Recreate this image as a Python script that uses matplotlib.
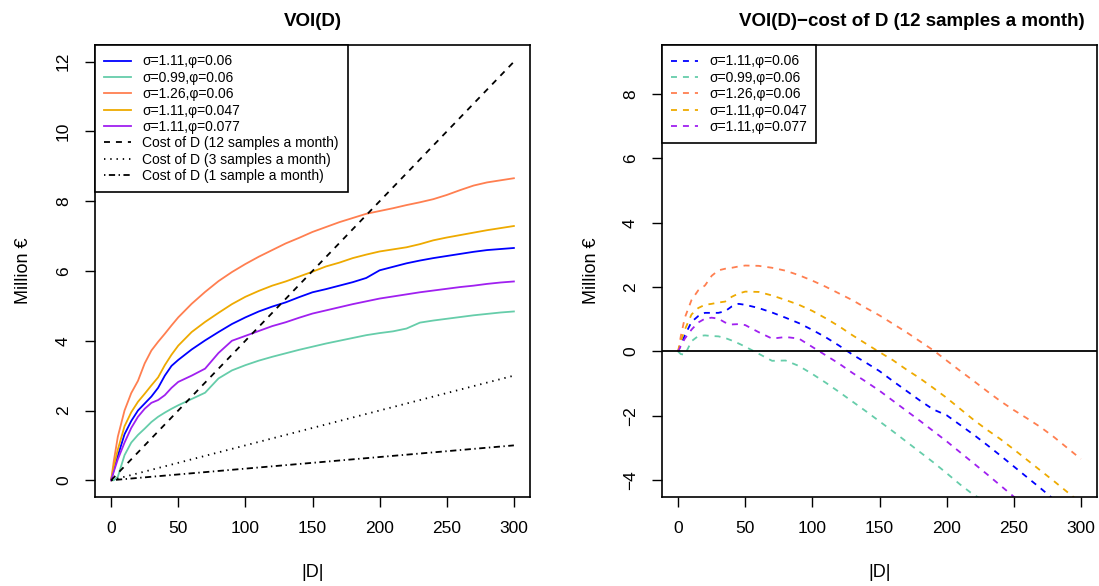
import numpy as np
import matplotlib
matplotlib.use("Agg")
import matplotlib.pyplot as plt

plt.rcParams['font.family'] = ['Liberation Sans', 'DejaVu Sans']
plt.rcParams['lines.scale_dashes'] = False

# sample sizes |D|
D = [0, 2, 5, 10, 15, 20, 25, 30, 35, 40, 45, 50, 60, 70, 80, 90, 100, 110, 120,
     130, 140, 150, 160, 170, 180, 190, 200, 210, 220, 230, 240, 250, 260, 270,
     280, 290, 300]

# VOI(D) in million euro for each parameter setting
voi_s111_p06 = [0, 0.30, 0.70, 1.32, 1.70, 2.00, 2.20, 2.40, 2.65, 3.00, 3.28, 3.45,
                3.75, 4.01, 4.25, 4.48, 4.67, 4.84, 4.98, 5.10, 5.25, 5.39, 5.48,
                5.58, 5.68, 5.80, 6.02, 6.12, 6.22, 6.30, 6.37, 6.43, 6.49, 6.55,
                6.60, 6.63, 6.66]
voi_s099_p06 = [0, 0.00, 0.10, 0.72, 1.08, 1.30, 1.48, 1.67, 1.82, 1.94, 2.05, 2.15,
                2.33, 2.51, 2.92, 3.15, 3.30, 3.43, 3.54, 3.64, 3.74, 3.83, 3.92,
                4.00, 4.08, 4.16, 4.22, 4.27, 4.35, 4.52, 4.58, 4.63, 4.68, 4.73,
                4.77, 4.81, 4.84]
voi_s126_p06 = [0, 0.55, 1.25, 2.00, 2.50, 2.85, 3.35, 3.72, 3.97, 4.20, 4.44, 4.67,
                5.06, 5.40, 5.71, 5.97, 6.20, 6.41, 6.60, 6.79, 6.95, 7.12, 7.26,
                7.40, 7.52, 7.64, 7.72, 7.80, 7.89, 7.97, 8.06, 8.18, 8.32, 8.45,
                8.54, 8.60, 8.66]
voi_s111_p047 = [0, 0.40, 0.88, 1.55, 1.95, 2.25, 2.48, 2.72, 2.95, 3.30, 3.60, 3.86,
                 4.25, 4.54, 4.80, 5.05, 5.26, 5.43, 5.58, 5.70, 5.84, 5.98, 6.13,
                 6.24, 6.37, 6.47, 6.56, 6.62, 6.68, 6.77, 6.88, 6.96, 7.03, 7.10,
                 7.17, 7.23, 7.29]
voi_s111_p077 = [0, 0.25, 0.60, 1.08, 1.50, 1.82, 2.05, 2.22, 2.30, 2.44, 2.65, 2.82,
                 3.00, 3.20, 3.65, 4.00, 4.14, 4.28, 4.42, 4.53, 4.66, 4.78, 4.87,
                 4.96, 5.05, 5.13, 5.21, 5.27, 5.33, 5.39, 5.44, 5.49, 5.54, 5.58,
                 5.63, 5.67, 5.70]

series_labels = ["σ=1.11,φ=0.06", "σ=0.99,φ=0.06", "σ=1.26,φ=0.06",
                 "σ=1.11,φ=0.047", "σ=1.11,φ=0.077"]
series_colors = ["#0000FF", "#66CDAA", "#FF7F50", "#EEAA00", "#A020F0"]
voi_all = [voi_s111_p06, voi_s099_p06, voi_s126_p06, voi_s111_p047, voi_s111_p077]

# cost of D, million euro, at the ends of the D range
cost_D = [0, 300]
cost_12 = [0, 12]
cost_3 = [0, 3]
cost_1 = [0, 1]

W, H = 1099, 586
fig = plt.figure(figsize=(W / 100, H / 100), dpi=100)
ax1 = fig.add_axes([95 / W, 1 - 497 / H, 435 / W, 452 / H])
ax2 = fig.add_axes([662 / W, 1 - 497 / H, 435 / W, 452 / H])

lw = 1.3
dash = (0, (4.3, 4.3))

for v, c, lab in zip(voi_all, series_colors, series_labels):
    ax1.plot(D, v, color=c, lw=lw, label=lab)
ax1.plot(cost_D, cost_12, color='black', lw=lw, ls=dash,
         label="Cost of D (12 samples a month)")
ax1.plot(cost_D, cost_3, color='black', lw=lw, ls=(0, (1.0, 3.5)),
         label="Cost of D (3 samples a month)")
ax1.plot(cost_D, cost_1, color='black', lw=lw, ls=(0, (1.0, 2.5, 4.5, 2.5)),
         label="Cost of D (1 sample a month)")

cost12_at_D = np.interp(D, cost_D, cost_12)
for v, c, lab in zip(voi_all, series_colors, series_labels):
    ax2.plot(D, np.array(v) - cost12_at_D, color=c, lw=lw, ls=dash, label=lab)
ax2.axhline(0, color='black', lw=1.3)

ax1.set_ylim(-0.48, 12.48)
ax1.set_yticks([0, 2, 4, 6, 8, 10, 12])
ax2.set_ylim(-4.52, 9.52)
ax2.set_yticks([-4, -2, 0, 2, 4, 6, 8])

for ax in (ax1, ax2):
    ax.set_xlim(-12, 312)
    ax.set_xticks([0, 50, 100, 150, 200, 250, 300])
    ax.tick_params(axis='both', direction='out', length=7.2, width=1.0,
                   labelsize=12.5, pad=10)
    for lbl in ax.get_yticklabels():
        lbl.set_rotation(90)
        lbl.set_va('center')
    for s in ax.spines.values():
        s.set_linewidth(1.2)
    ax.set_xlabel("|D|", fontsize=13, labelpad=20)
    ax.set_ylabel("Million €", fontsize=13, labelpad=17)
    leg = ax.legend(loc='upper left', bbox_to_anchor=(0, 1), borderaxespad=0,
                    fontsize=10, frameon=True, fancybox=False, shadow=False,
                    framealpha=1, edgecolor='black', handlelength=1.9,
                    handletextpad=0.8, labelspacing=0.17, borderpad=0.68)
    leg.get_frame().set_linewidth(1.2)

ax1.set_title("VOI(D)", fontsize=13.5, fontweight='bold', pad=14)
ax2.set_title("VOI(D)\u2212cost of D (12 samples a month)", fontsize=13.5,
              fontweight='bold', pad=14, x=0.575)

fig.savefig("out.png", dpi=100)
